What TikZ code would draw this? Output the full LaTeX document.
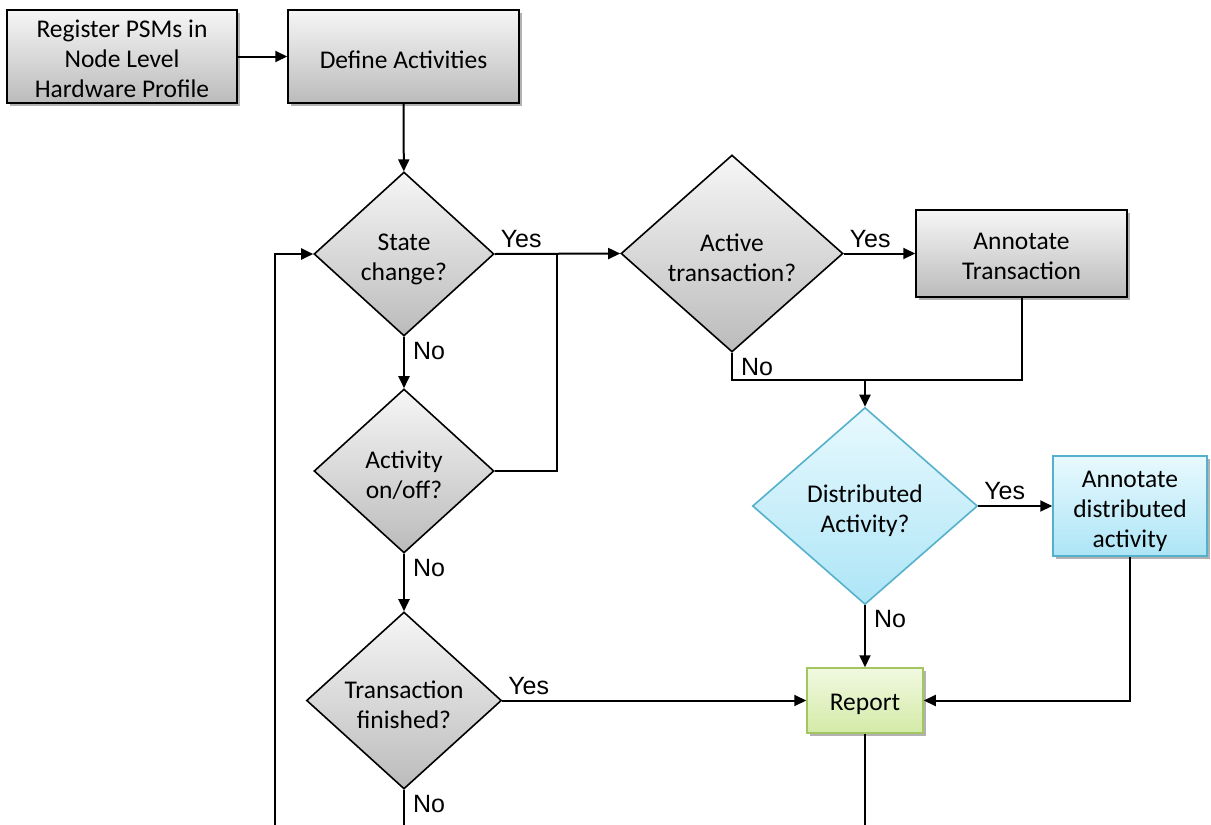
\documentclass[tikz,border=0pt]{standalone}
\usepackage{fontspec}
\setmainfont{Carlito}
\newfontfamily\labfont{Liberation Sans}
\usetikzlibrary{shapes.geometric,arrows.meta,shadows}
\definecolor{grayTop}{HTML}{F6F6F6}
\definecolor{grayBot}{HTML}{BBBBBB}
\definecolor{blueTop}{HTML}{E8F9FE}
\definecolor{blueBot}{HTML}{ADE5F6}
\definecolor{blueLine}{HTML}{55B1CB}
\definecolor{greenTop}{HTML}{F1F9E1}
\definecolor{greenBot}{HTML}{D3EAA6}
\definecolor{greenLine}{HTML}{A3C660}
% tall strut on a first line: sets the text a little low in its shape
\newcommand{\lowstrut}[1][25pt]{\rule{0pt}{#1}}
\begin{document}
\begin{tikzpicture}[x=1pt,y=-1pt,
  every node/.style={font=\fontsize{25.5}{30}\selectfont},
  softshadow/.style={drop shadow={shadow xshift=3pt,shadow yshift=-3pt,opacity=0.3,fill=black}},
  box/.style={rectangle,draw=black,line width=1.5pt,align=center,inner sep=0pt,
    top color=grayTop,bottom color=grayBot,softshadow},
  decision/.style={diamond,draw=black,line width=1.6pt,align=center,inner sep=0pt,
    top color=grayTop,bottom color=grayBot},
  bluedecision/.style={decision,draw=blueLine,top color=blueTop,bottom color=blueBot},
  bluebox/.style={box,draw=blueLine,top color=blueTop,bottom color=blueBot},
  greenbox/.style={box,draw=greenLine,top color=greenTop,bottom color=greenBot},
  link/.style={draw=black,line width=2pt},
  arr/.style={link,-{Triangle[length=12pt,width=11pt]}},
  lab/.style={font=\labfont\fontsize{25}{28}\selectfont,inner sep=0pt},
  yeslab/.style={lab,anchor=south west,xshift=5pt,yshift=5pt},
  nolab/.style={lab,anchor=north west,xshift=8pt,yshift=-4pt}
]
\useasboundingbox (0,0) rectangle (1211,825);

% process boxes
\node[box,minimum width=230pt,minimum height=93pt] (reg) at (122,56.5)
  {\lowstrut[22pt]Register PSMs in\\Node Level\\Hardware Profile};
\node[box,minimum width=231pt,minimum height=93pt] (def) at (403.5,56.5)
  {\lowstrut Define Activities};
\node[box,minimum width=211pt,minimum height=87pt] (atr) at (1021.5,253.5)
  {\lowstrut[23pt]Annotate\\Transaction};
\node[bluebox,minimum width=154pt,minimum height=100pt] (adis) at (1130,506)
  {\lowstrut[27pt]Annotate\\distributed\\activity};
\node[greenbox,minimum width=116pt,minimum height=65pt] (rep) at (865,700.5)
  {\lowstrut Report};

% decisions
\node[decision,minimum width=180pt,minimum height=164pt] (sc) at (404,254)
  {\lowstrut[27pt]State\\change?};
\node[decision,minimum width=180pt,minimum height=164pt] (ao) at (404,471)
  {\lowstrut[27pt]Activity\\on/off?};
\node[decision,minimum width=195pt,minimum height=177pt] (tf) at (404,700.5)
  {\lowstrut[27pt]Transaction\\finished?};
\node[decision,minimum width=222pt,minimum height=197pt] (at) at (732,253.5)
  {\lowstrut[27pt]Active\\transaction?};
\node[bluedecision,minimum width=225pt,minimum height=197pt] (da) at (865,506)
  {\lowstrut[27pt]Distributed\\Activity?};

% junction points and loose ends
\coordinate (join) at (557,254);
\coordinate (merge) at (865,380);
\coordinate (loop) at (275,825);
\coordinate (bottom) at (0,825);

% connectors
\draw[arr] (reg) -- (def);
\draw[arr] (def) -- (sc);
\draw[arr] (sc.east) -- node[yeslab,pos=0] {Yes} (at.west);
\draw[link] (ao.east) -| (join);
\draw[arr] (sc.south) -- node[nolab,pos=0] {No} (ao.north);
\draw[arr] (ao.south) -- node[nolab,pos=0] {No} (tf.north);
\draw[link] (tf.south) -- node[nolab,pos=0] {No} (tf.south |- bottom);
\draw[arr] (loop) |- (sc.west);
\draw[arr] (at.east) -- node[yeslab,pos=0] {Yes} (atr.west);
\draw[link] (at.south) |- node[nolab,pos=0] {No} (merge) -| (atr.south);
\draw[arr] (merge) -- (da.north);
\draw[arr] (da.east) -- node[yeslab,pos=0] {Yes} (adis.west);
\draw[arr] (da.south) -- node[nolab,pos=0] {No} (rep.north);
\draw[arr] (tf.east) -- node[yeslab,pos=0] {Yes} (rep.west);
\draw[arr] (adis.south) |- (rep.east);
\draw[link] (rep.south) -- (rep.south |- bottom);
\end{tikzpicture}
\end{document}
